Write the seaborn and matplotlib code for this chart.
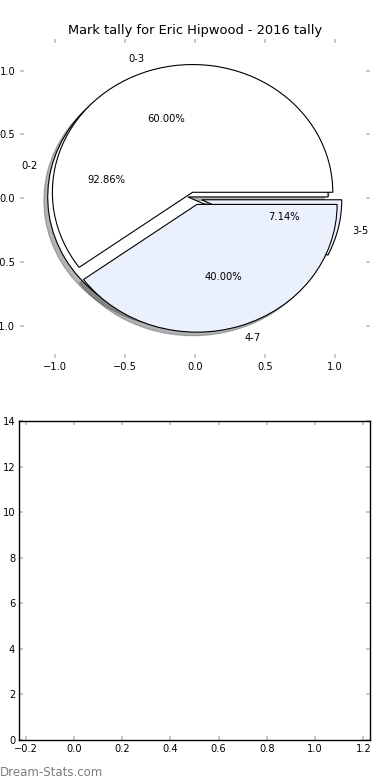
import matplotlib
matplotlib.use("Agg")
import matplotlib.pyplot as plt
import matplotlib.patches as mpatches
import seaborn as sns

# ---- data ----
title = "Mark tally for Eric Hipwood - 2016 tally"
outer_labels = ["0-3", "4-7"]
outer_values = [60, 40]
inner_labels = ["0-2", "3-5"]
inner_values = [13, 1]
pie_ticks = [-1.0, -0.5, 0.0, 0.5, 1.0]
bar_xticks = [-0.2, 0.0, 0.2, 0.4, 0.6, 0.8, 1.0, 1.2]
bar_yticks = [0, 2, 4, 6, 8, 10, 12, 14]
watermark = "Dream-Stats.com"

sns.set_theme(style="white")
plt.rcParams["font.family"] = ["DejaVu Sans"]

wedge_colors = ["#ffffff", "#eaf0fc"]
tick_grey = "#bdbdbd"
small = 7.2

fig = plt.figure(figsize=(3.9, 7.8), dpi=100)
ax1 = fig.add_axes([0.0500, 0.5410, 0.8987, 0.4094])
ax2 = fig.add_axes([0.0495, 0.0513, 0.8992, 0.4090])

common = dict(explode=[0.05, 0.05], autopct="%1.2f%%", shadow=True,
              colors=wedge_colors, startangle=0, labeldistance=1.1,
              pctdistance=0.6,
              wedgeprops=dict(edgecolor="black", linewidth=0.8),
              textprops=dict(fontsize=small, color="black"))
ax1.pie(inner_values, labels=inner_labels, **common)
ax1.pie(outer_values, labels=outer_labels, **common)
for p in ax1.patches:
    if isinstance(p, mpatches.Shadow):
        p.set_alpha(0.42)
ax1.set_aspect("auto")
ax1.set_xlim(-1.25, 1.25)
ax1.set_ylim(-1.25, 1.25)
ax1.set_xticks(pie_ticks)
ax1.set_yticks(pie_ticks)
ax1.set_frame_on(False)
ax1.set_title(title, fontsize=9.4, color="black", pad=3.5)

for ax in (ax1, ax2):
    ax.tick_params(direction="in", length=3.0, width=1.2, color=tick_grey,
                   bottom=True, left=True, top=True, right=True,
                   labelsize=7.1, labelcolor="black", pad=3)

ax2.set_xlim(-0.227, 1.228)
ax2.set_ylim(0, 14)
ax2.set_xticks(bar_xticks)
ax2.set_yticks(bar_yticks)
for s in ax2.spines.values():
    s.set_visible(True)
    s.set_edgecolor("black")
    s.set_linewidth(1.0)

fig.text(0.0, 0.005, watermark, color="#7c7c7c", fontsize=8.5,
         ha="left", va="baseline")

fig.savefig("out.png", dpi=100)
